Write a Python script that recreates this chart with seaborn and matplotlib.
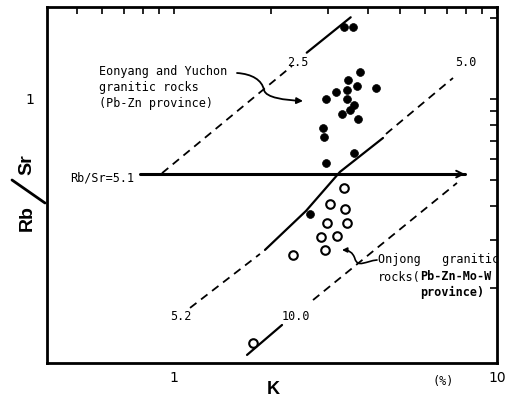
import numpy as np
import pandas as pd
import matplotlib
matplotlib.use("Agg")
import matplotlib.pyplot as plt
import seaborn as sns
from matplotlib.path import Path
from matplotlib.patches import FancyArrowPatch
from matplotlib.lines import Line2D
from matplotlib.ticker import FixedLocator, NullFormatter

# ---------------- data ----------------
filled_k = [3.37, 3.58, 3.77, 3.46, 3.69, 4.22, 3.17, 3.43, 2.95, 3.43,
            3.62, 3.51, 3.31, 3.72, 2.90, 2.92, 3.62, 2.95, 2.64]
filled_r = [1.85, 1.85, 1.26, 1.18, 1.12, 1.10, 1.06, 1.08, 1.00, 1.00,
            0.95, 0.91, 0.88, 0.84, 0.78, 0.72, 0.63, 0.58, 0.374]
open_k = [3.37, 3.03, 3.38, 2.97, 3.44, 2.85, 3.19, 2.94, 2.34, 1.75]
open_r = [0.467, 0.408, 0.390, 0.348, 0.346, 0.309, 0.312, 0.276, 0.264, 0.1245]

line25_solid_k = [2.576, 3.524]
line25_solid_r = [1.484, 2.007]
line25_dash_k = [0.918, 2.319]
line25_dash_r = [0.531, 1.325]
line50_dash_k = [4.532, 7.308]
line50_dash_r = [0.742, 1.196]
line50_solid_k = [1.913, 2.563, 3.265, 4.437]
line50_solid_r = [0.276, 0.385, 0.537, 0.717]
line52_dash_k = [1.121, 1.846]
line52_dash_r = [0.1683, 0.2667]
line10_dash_k = [2.694, 7.519]
line10_dash_r = [0.180, 0.4886]
line10_solid_k = [1.683, 2.160]
line10_solid_r = [0.1127, 0.1455]
hline_k = [0.785, 7.96]
hline_r = [0.527, 0.527]

x_major = [1, 10]
x_major_labels = ["1", "10"]
x_minor = [0.5, 0.6, 0.7, 0.8, 0.9, 2, 3, 4, 5, 6, 7, 8, 9]
y_major = [1]
y_major_labels = ["1"]
y_minor = [0.2, 0.3, 0.4, 0.5, 0.6, 0.7, 0.8, 0.9, 2]

# ---------------- figure ----------------
sns.set_style("white")
plt.rcParams["font.family"] = ["DejaVu Sans"]
plt.rcParams["text.color"] = "black"
plt.rcParams["axes.labelcolor"] = "black"
plt.rcParams["xtick.color"] = "black"
plt.rcParams["ytick.color"] = "black"
W, H = 509, 400
fig = plt.figure(figsize=(W / 100, H / 100), dpi=100)
ax = fig.add_axes([47 / W, 1 - 363 / H, 450 / W, 356 / H])
ax.set_xscale("log")
ax.set_yscale("log")

def P(x, y):
    return (x / W, 1 - y / H)

dash = (0, (4.5, 3.2))
segs = [
    (line25_solid_k, line25_solid_r, "-", 1.6),
    (line25_dash_k, line25_dash_r, dash, 1.3),
    (line50_dash_k, line50_dash_r, dash, 1.3),
    (line50_solid_k, line50_solid_r, "-", 1.6),
    (line52_dash_k, line52_dash_r, dash, 1.3),
    (line10_dash_k, line10_dash_r, dash, 1.3),
    (line10_solid_k, line10_solid_r, "-", 1.6),
]
for kk, rr, ls, lw in segs:
    sns.lineplot(x=kk, y=rr, ax=ax, color="black", linestyle=ls, linewidth=lw,
                 sort=False, estimator=None)

sns.lineplot(x=hline_k, y=hline_r, ax=ax, color="black", linewidth=2.2,
             sort=False, estimator=None)
ax.annotate("", xy=(hline_k[1], hline_r[1]), xytext=(hline_k[1] * 0.85, hline_r[1]),
            arrowprops=dict(arrowstyle="->", color="black", lw=1.4,
                            mutation_scale=12, shrinkA=0, shrinkB=0))

sns.scatterplot(x=filled_k, y=filled_r, ax=ax, color="black", s=32,
                edgecolor="black", linewidth=0.5, zorder=5)
sns.scatterplot(x=open_k, y=open_r, ax=ax, color="white", s=38,
                edgecolor="black", linewidth=1.5, zorder=5)

ax.set_xlim(0.4044, 10.0)
ax.set_ylim(0.1052, 2.191)

ax.xaxis.set_major_locator(FixedLocator(x_major))
ax.xaxis.set_minor_locator(FixedLocator(x_minor))
ax.xaxis.set_minor_formatter(NullFormatter())
ax.set_xticklabels(x_major_labels)
ax.yaxis.set_major_locator(FixedLocator(y_major))
ax.yaxis.set_minor_locator(FixedLocator(y_minor))
ax.yaxis.set_minor_formatter(NullFormatter())
ax.set_yticklabels(y_major_labels)
ax.tick_params(which="both", direction="in", top=True, right=True,
               length=5, width=1.2, labelsize=10, color="black",
               labelcolor="black")
ax.tick_params(axis="x", which="both", pad=6)
ax.tick_params(axis="y", which="both", pad=9)
for sp in ax.spines.values():
    sp.set_linewidth(2)
    sp.set_color("black")
ax.set_xlabel("")
ax.set_ylabel("")

mono = "DejaVu Sans Mono"
fs = 8.5
# annotation texts (pixel positions)
for txt, (x, y) in [("Eonyang and Yuchon", (99, 72)),
                    ("granitic rocks", (99, 88)),
                    ("(Pb-Zn province)", (99, 104)),
                    ("Onjong   granitic", (378, 260)),
                    ("rocks(", (378, 277))]:
    fig.text(*P(x, y), txt, family=mono, fontsize=fs, ha="left", va="center")
fig.text(*P(420, 277), "Pb-Zn-Mo-W", family=mono, fontsize=fs, ha="left",
         va="center", fontweight="bold")
fig.text(*P(420, 292), "province)", family=mono, fontsize=fs, ha="left",
         va="center", fontweight="bold")

for txt, (x, y) in [("2.5", (298, 63)), ("5.0", (466, 63)),
                    ("5.2", (181, 316)), ("10.0", (296, 316))]:
    fig.text(*P(x, y), txt, family=mono, fontsize=8.5, ha="center", va="center")
fig.text(*P(102, 178), "Rb/Sr=5.1", family=mono, fontsize=8.5, ha="center", va="center")
fig.text(*P(443, 381), "(%)", family=mono, fontsize=8.5, ha="center", va="center")

# axis titles
fig.text(*P(273, 390), "K", family="Liberation Sans", fontsize=13,
         fontweight="bold", ha="center", va="center")
fig.text(*P(27, 218), "Rb", family="Liberation Sans", fontsize=14,
         fontweight="bold", ha="center", va="center", rotation=90)
fig.text(*P(27, 165), "Sr", family="Liberation Sans", fontsize=14,
         fontweight="bold", ha="center", va="center", rotation=90)
fig.add_artist(Line2D([12 / W, 45 / W], [1 - 180 / H, 1 - 203 / H],
                      transform=fig.transFigure, color="black", lw=2))

# curved arrows
def pix_path(pts, codes):
    verts = [P(x, y) for x, y in pts]
    return Path(verts, codes)

p1 = pix_path([(237, 73), (252, 74), (262, 80), (264, 90),
               (266, 98), (285, 100), (303, 101)],
              [Path.MOVETO, Path.CURVE4, Path.CURVE4, Path.CURVE4,
               Path.CURVE4, Path.CURVE4, Path.CURVE4])
a1 = FancyArrowPatch(path=p1, arrowstyle="-|>", mutation_scale=9,
                     color="black", lw=1.3, transform=fig.transFigure)
fig.add_artist(a1)
p2 = pix_path([(377, 260), (366, 261), (358, 268), (355, 259),
               (353, 252), (348, 250), (342, 250)],
              [Path.MOVETO, Path.CURVE4, Path.CURVE4, Path.CURVE4,
               Path.CURVE4, Path.CURVE4, Path.CURVE4])
a2 = FancyArrowPatch(path=p2, arrowstyle="-|>", mutation_scale=7,
                     color="black", lw=1.2, transform=fig.transFigure)
fig.add_artist(a2)

fig.savefig("out.png", dpi=100)
